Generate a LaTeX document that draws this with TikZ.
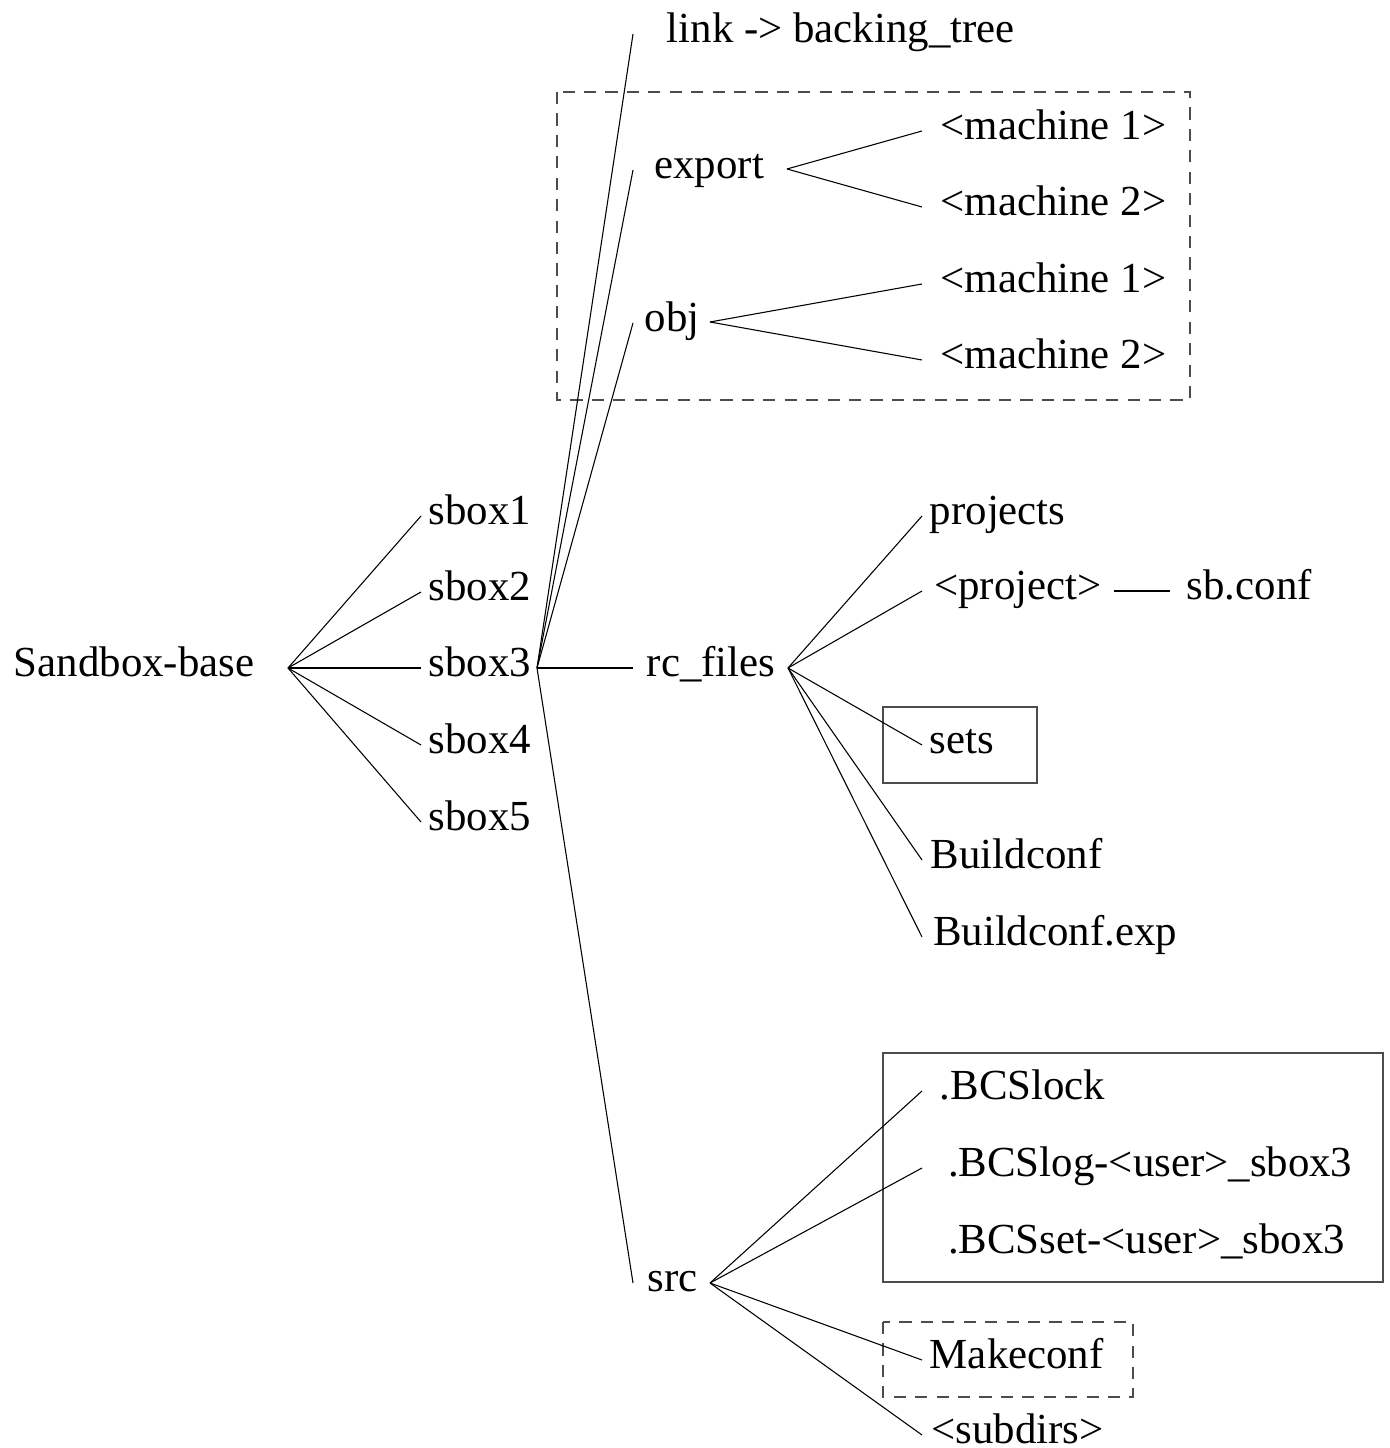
\documentclass[tikz,border=0pt]{standalone}
\usepackage{fontspec}
\setmainfont{Liberation Serif}
\begin{document}
\begin{tikzpicture}[x=0.28pt,y=-0.28pt,line width=0.3pt,
    dir/.style={anchor=mid west,inner sep=0pt,outer xsep=2.2pt,font=\fontsize{12}{14}\selectfont},
    groupbox/.style={draw=black!70,line width=0.4pt},
    dashbox/.style={groupbox,dash pattern=on 3.4pt off 2.6pt}]
    \useasboundingbox (0,0) rectangle (1390,1448);
    \draw [dashbox] (557,92) rectangle (1190,400);
    \draw [groupbox] (883,707) rectangle (1037,783);
    \draw [groupbox] (883,1053) rectangle (1383,1282);
    \draw [dashbox] (883,1322) rectangle (1133,1397);
    \node [dir] (base) at (6,668) {Sandbox-base};
    \node [dir] (sbox1) at (421,516) {sbox1};
    \node [dir] (sbox2) at (421,592) {sbox2};
    \node [dir] (sbox3) at (421,668) {sbox3};
    \node [dir] (sbox4) at (421,745) {sbox4};
    \node [dir] (sbox5) at (421,822) {sbox5};
    \node [dir,outer xsep=9.5pt] (link) at (633,34) {link -> backing\_tree};
    \node [dir,outer xsep=6pt] (export) at (633,170) {export};
    \node [dir,outer xsep=3.3pt] (obj) at (633,323) {obj};
    \node [dir,outer xsep=3.9pt] (rcfiles) at (633,668) {rc\_files};
    \node [dir,outer xsep=4.1pt] (src) at (633,1283) {src};
    \node [dir,outer xsep=5.2pt] (expm1) at (922,131) {<machine 1>};
    \node [dir,outer xsep=5.2pt] (expm2) at (922,207) {<machine 2>};
    \node [dir,outer xsep=5.2pt] (objm1) at (922,284) {<machine 1>};
    \node [dir,outer xsep=5.2pt] (objm2) at (922,360) {<machine 2>};
    \node [dir] (projects) at (922,516) {projects};
    \node [dir,outer xsep=3.4pt] (project) at (922,591) {<project>};
    \node [dir,outer xsep=4.7pt] (sbconf) at (1170,591) {sb.conf};
    \node [dir] (sets) at (922,745) {sets};
    \node [dir,outer xsep=2.5pt] (buildconf) at (922,860) {Buildconf};
    \node [dir,outer xsep=3.1pt] (buildexp) at (922,937) {Buildconf.exp};
    \node [dir,outer xsep=5pt] (bcslock) at (922,1091) {.BCSlock};
    \node [dir,outer xsep=7.3pt] (bcslog) at (922,1168) {.BCSlog-<user>\_sbox3};
    \node [dir,outer xsep=7.3pt] (bcsset) at (922,1245) {.BCSset-<user>\_sbox3};
    \node [dir] (makeconf) at (922,1360) {Makeconf};
    \node [dir,outer xsep=2.6pt] (subdirs) at (922,1435) {<subdirs>};
    \coordinate (base-fan) at (288,668);
    \coordinate (sbox3-fan) at (537,668);
    \coordinate (export-fan) at (787,169);
    \coordinate (obj-fan) at (710,322);
    \coordinate (rc-fan) at (788,668);
    \coordinate (src-fan) at (710,1283);
    \foreach \n in {sbox1,sbox2,sbox3,sbox4,sbox5}
        \draw (base-fan) -- (\n.mid west);
    \foreach \n in {link,export,obj,rcfiles,src}
        \draw (sbox3-fan) -- (\n.mid west);
    \foreach \n in {expm1,expm2}
        \draw (export-fan) -- (\n.mid west);
    \foreach \n in {objm1,objm2}
        \draw (obj-fan) -- (\n.mid west);
    \foreach \n in {projects,project,sets,buildconf,buildexp}
        \draw (rc-fan) -- (\n.mid west);
    \foreach \n in {bcslock,bcslog,makeconf,subdirs}
        \draw (src-fan) -- (\n.mid west);
    \draw (project.mid east) -- (sbconf.mid west);
\end{tikzpicture}
\end{document}
